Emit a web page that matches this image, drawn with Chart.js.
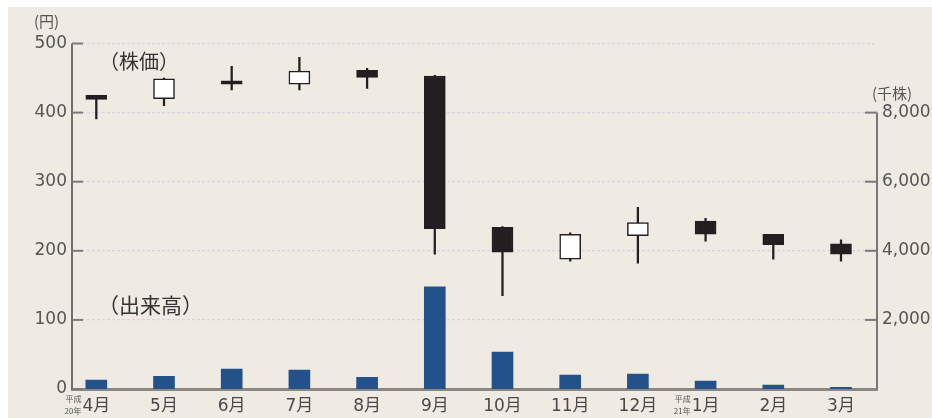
<!DOCTYPE html>
<html>
<head>
<meta charset="utf-8">
<script src="https://cdn.jsdelivr.net/npm/chart.js@4/dist/chart.umd.min.js"></script>
<style>
    html, body { margin: 0; padding: 0; background: #fff; }
</style>
</head>
<body>
<canvas id="grafico" width="932" height="418"></canvas>
<script>
// Datos del gráfico: meses, precios (apertura, máximo, mínimo, cierre) y volumen.
const meses = ['4月', '5月', '6月', '7月', '8月', '9月', '10月', '11月', '12月', '1月', '2月', '3月'];
const apertura = [425, 420, 446, 441, 461, 453, 234, 188, 222, 243, 224, 210];
const maximo = [425, 450, 467, 480, 464, 454, 235, 226, 263, 247, 224, 216];
const minimo = [391, 410, 433, 433, 435, 195, 135, 185, 182, 214, 188, 185];
const cierre = [419, 449, 441, 460, 451, 232, 198, 224, 241, 224, 209, 195];
const volumen = [260, 370, 580, 550, 340, 2960, 1070, 400, 430, 230, 110, 50];
const ticksPrecio = [0, 100, 200, 300, 400, 500];
const ticksVolumen = [2000, 4000, 6000, 8000];
// Notas de año junto a los meses.
const notasAnio = [{ indice: 0, texto: ['平成', '20年'] }, { indice: 9, texto: ['平成', '21年'] }];

const FUENTE = "'DejaVu Sans', 'Noto Sans CJK JP', sans-serif";
const FUENTE_JP = "'Noto Sans CJK JP', sans-serif";
const OSCURO = '#231f20';

// Plugin para el fondo, los ejes y los textos sueltos.
const decoracion = {
    id: 'decoracion',
    beforeDraw(chart) {
        const ctx = chart.ctx;
        ctx.save();
        ctx.fillStyle = '#ffffff';
        ctx.fillRect(0, 0, chart.width, chart.height);
        ctx.fillStyle = '#efebe2';
        ctx.fillRect(8, 7, chart.width - 8, chart.height - 7);
        ctx.restore();
    },
    afterDraw(chart) {
        const ctx = chart.ctx;
        const { left, right, bottom } = chart.chartArea;
        const y = chart.scales.y;
        const y2 = chart.scales.y2;
        const x = chart.scales.x;
        ctx.save();
        // Eje izquierdo
        ctx.strokeStyle = '#444';
        ctx.lineWidth = 1.5;
        ctx.beginPath();
        ctx.moveTo(left, y.getPixelForValue(500));
        ctx.lineTo(left, bottom);
        ctx.stroke();
        // Eje derecho (solo hasta 8,000)
        ctx.strokeStyle = '#777';
        ctx.lineWidth = 2;
        ctx.beginPath();
        ctx.moveTo(right, y2.getPixelForValue(8000));
        ctx.lineTo(right, bottom);
        ctx.stroke();
        // Marcas de los ejes hacia adentro
        ctx.strokeStyle = '#7a7a7a';
        ctx.lineWidth = 2;
        ticksPrecio.forEach(v => {
            const py = y.getPixelForValue(v);
            ctx.beginPath();
            ctx.moveTo(left, py);
            ctx.lineTo(left + 11, py);
            ctx.stroke();
        });
        ticksVolumen.forEach(v => {
            const py = y2.getPixelForValue(v);
            ctx.beginPath();
            ctx.moveTo(right - 12, py);
            ctx.lineTo(right, py);
            ctx.stroke();
        });
        // Unidades
        ctx.fillStyle = '#555';
        ctx.textBaseline = 'middle';
        ctx.font = '15px ' + FUENTE_JP;
        ctx.textAlign = 'left';
        ctx.fillText('(円)', 34, 21);
        ctx.fillText('(千株)', 872, 93);
        // Etiquetas de las series
        ctx.fillStyle = '#333';
        ctx.font = '20px ' + FUENTE_JP;
        ctx.fillText('（株価）', 99, 61);
        ctx.font = '21px ' + FUENTE_JP;
        ctx.fillText('（出来高）', 98, 305);
        // Notas de año
        ctx.fillStyle = '#555';
        ctx.textAlign = 'right';
        notasAnio.forEach(n => {
            ctx.font = '17px ' + FUENTE;
            const ancho = ctx.measureText(meses[n.indice]).width;
            const px = x.getPixelForValue(n.indice) - ancho / 2 - 1;
            ctx.font = '8px ' + FUENTE_JP;
            ctx.fillText(n.texto[0], px, 399);
            ctx.fillText(n.texto[1], px, 411);
        });
        ctx.restore();
    }
};

new Chart(document.getElementById('grafico'), {
    type: 'bar',
    data: {
        datasets: [{
            label: '株価',
            data: meses.map((m, i) => ({ x: i, y: [apertura[i], cierre[i]] })),
            backgroundColor: cierre.map((c, i) => c >= apertura[i] ? '#ffffff' : OSCURO),
            borderColor: OSCURO,
            borderWidth: 1.5,
            borderSkipped: false,
            barThickness: 21,
            grouped: false,
            yAxisID: 'y',
            order: 1
        }, {
            label: 'mecha',
            data: meses.map((m, i) => ({ x: i, y: [minimo[i], maximo[i]] })),
            backgroundColor: OSCURO,
            barThickness: 1.6,
            grouped: false,
            yAxisID: 'y',
            order: 2
        }, {
            label: '出来高',
            data: meses.map((m, i) => ({ x: i, y: volumen[i] })),
            backgroundColor: '#23528a',
            barThickness: 21,
            grouped: false,
            yAxisID: 'y2',
            order: 3
        }]
    },
    options: {
        responsive: false,
        animation: false,
        devicePixelRatio: 1,
        layout: { padding: { top: 43.5, left: 0, right: 0, bottom: 0 } },
        plugins: {
            legend: { display: false },
            tooltip: { enabled: false }
        },
        scales: {
            x: {
                type: 'linear',
                offset: false,
                min: -0.359,
                max: 11.532,
                afterBuildTicks: s => { s.ticks = meses.map((m, i) => ({ value: i })); },
                afterFit: s => { s.height = 29; },
                ticks: {
                    callback: (v, i) => meses[i],
                    color: '#4a4a4a',
                    font: { family: FUENTE, size: 17 },
                    padding: 7,
                    maxRotation: 0,
                    autoSkip: false
                },
                grid: { display: false, drawTicks: false },
                border: { display: true, color: '#8c8781', width: 3 }
            },
            y: {
                position: 'left',
                min: 0,
                max: 500,
                afterBuildTicks: s => { s.ticks = ticksPrecio.map(v => ({ value: v })); },
                afterFit: s => { s.width = 72; },
                ticks: {
                    color: '#555',
                    font: { family: FUENTE, size: 17 },
                    padding: 5
                },
                grid: { color: '#dccfe6', lineWidth: 1.2, drawTicks: false },
                border: { display: false, dash: [3, 2] }
            },
            y2: {
                position: 'right',
                min: 0,
                max: 10000,
                afterBuildTicks: s => { s.ticks = ticksVolumen.map(v => ({ value: v })); },
                afterFit: s => { s.width = 55; },
                ticks: {
                    callback: v => v.toLocaleString('en-US'),
                    color: '#555',
                    font: { family: FUENTE, size: 17 },
                    padding: 5
                },
                grid: { display: false, drawTicks: false },
                border: { display: false }
            }
        }
    },
    plugins: [decoracion]
});
</script>
</body>
</html>
